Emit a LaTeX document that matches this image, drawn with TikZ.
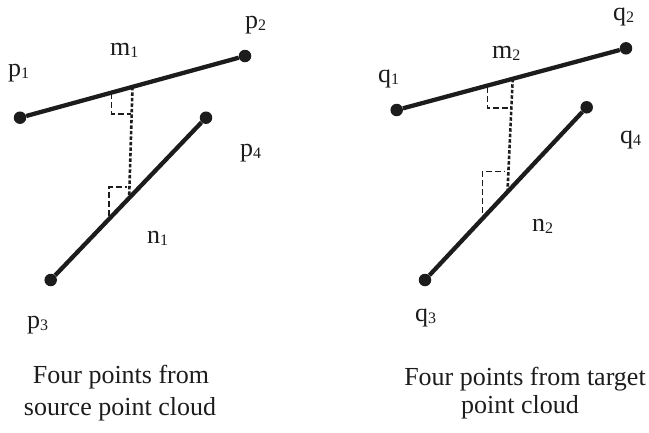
\documentclass[tikz,border=0pt]{standalone}
\usepackage{fontspec}
\setmainfont{Liberation Serif}
\usetikzlibrary{calc}
\definecolor{ink}{RGB}{28,28,28}
\newcommand\subdig[1]{\raisebox{-2pt}{\fontsize{16}{16}\selectfont #1}}
\tikzset{
  dot/.style={circle,fill=ink,inner sep=0pt,minimum size=12.5pt},
  seg/.style={line width=4.3pt,ink},
  perp/.style={line width=2.6pt,ink,dash pattern=on 3.5pt off 2pt},
  ang/.style={line width=1.2pt,ink,dash pattern=on 6pt off 3pt},
  lbl/.style={anchor=base west,inner sep=0pt,font=\fontsize{26}{30}\selectfont,text=ink},
  captext/.style={anchor=base,inner sep=0pt,font=\fontsize{26}{30}\selectfont,text=ink}
}
\begin{document}
\begin{tikzpicture}[x=1pt,y=-1pt]
\useasboundingbox (0,0) rectangle (649,432);
% left figure
\node[dot] (p1) at (20,117.7) {};
\node[dot] (p2) at (245,56) {};
\node[dot] (p4) at (206,117.7) {};
\node[dot] (p3) at (50.7,280) {};
\draw[seg] (p1) -- (p2);
\draw[seg] (p3) -- (p4);
\coordinate (mf1) at ($(p1)!0.5!(p2)$);
\coordinate (nf1) at ($(p3)!0.505!(p4)$);
\draw[perp] (mf1) -- (nf1);
\draw[ang] (111.7,93) -- (111.7,114) -- (131,114);
\draw[ang] (109,216) -- (109,187) -- (127,187);
\node[lbl] (lp1) at (8,76) {p\subdig{1}};
\node[lbl] (lm1) at (110,55) {m\subdig{1}};
\node[lbl] (lp2) at (245,28) {p\subdig{2}};
\node[lbl] (lp4) at (240,156) {p\subdig{4}};
\node[lbl] (ln1) at (147,243) {n\subdig{1}};
\node[lbl] (lp3) at (27,328) {p\subdig{3}};
\node[captext] (c1a) at (121,383) {Four points from};
\node[captext] (c1b) at (120,415) {source point cloud};
% right figure
\node[dot] (q1) at (396.7,110) {};
\node[dot] (q2) at (626,48.3) {};
\node[dot] (q4) at (586.7,107.3) {};
\node[dot] (q3) at (425,280) {};
\draw[seg] (q1) -- (q2);
\draw[seg] (q3) -- (q4);
\coordinate (mf2) at ($(q1)!0.506!(q2)$);
\coordinate (nf2) at ($(q3)!0.51!(q4)$);
\draw[perp] (mf2) -- (nf2);
\draw[ang] (487.3,87) -- (487.3,108) -- (508.3,108);
\draw[ang] (482.3,213) -- (482.3,171.7) -- (505,171.7);
\node[lbl] (lq1) at (378,82) {q\subdig{1}};
\node[lbl] (lm2) at (492,58) {m\subdig{2}};
\node[lbl] (lq2) at (613,20) {q\subdig{2}};
\node[lbl] (lq4) at (620,143) {q\subdig{4}};
\node[lbl] (ln2) at (532,231) {n\subdig{2}};
\node[lbl] (lq3) at (415,321) {q\subdig{3}};
\node[captext] (c2a) at (525,385) {Four points from target};
\node[captext] (c2b) at (520,413) {point cloud};
\end{tikzpicture}
\end{document}
